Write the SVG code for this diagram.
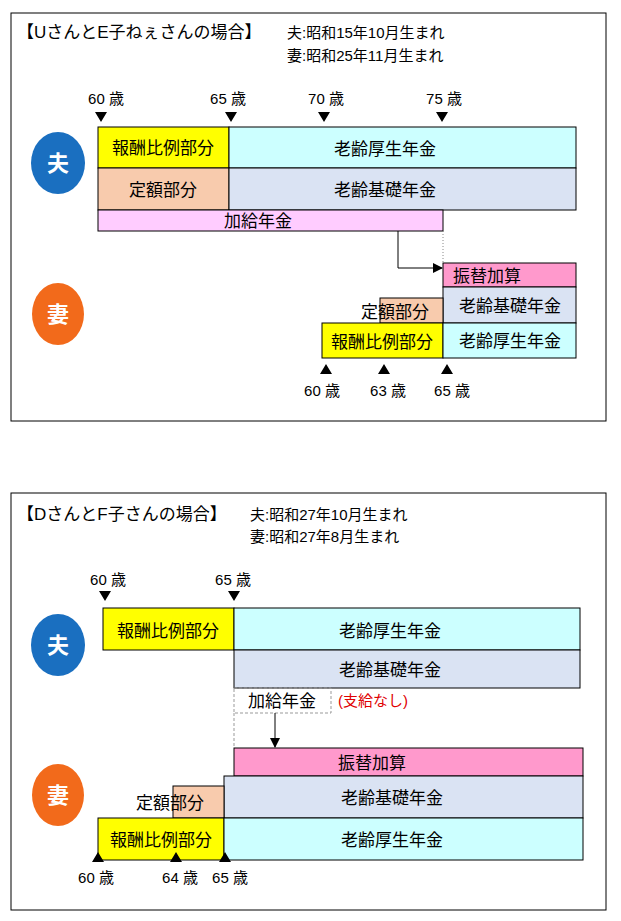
<svg xmlns="http://www.w3.org/2000/svg" width="621" height="921" viewBox="0 0 621 921">
<style>
text{font-family:"Liberation Sans","Noto Sans CJK JP",sans-serif;fill:#000}
.t{font-size:17px}
.b{font-size:17px}
.a{font-size:15px}
.c{font-size:22px;font-weight:bold;fill:#fff}
.m{text-anchor:middle}
.r{stroke:#000;stroke-width:1}
.y{fill:#ffff00}.o{fill:#f8cbad}.cy{fill:#ccffff}.g{fill:#dae3f3}.p{fill:#ffccff}.pk{fill:#ff99cc}
</style>
<defs>
<marker id="ah" markerWidth="10" markerHeight="10" refX="9" refY="5" orient="auto" markerUnits="userSpaceOnUse"><path d="M0,0L10,5L0,10z" fill="#000"/></marker>
</defs>
<rect width="621" height="921" fill="#fff"/>
<g id="panel1">
<rect x="11" y="13" width="595" height="408" fill="none" stroke="#000"/>
<text x="17" y="38" class="t">【UさんとE子ねぇさんの場合】</text>
<text x="287" y="38" class="a">夫:昭和15年10月生まれ</text>
<text x="287" y="61" class="a">妻:昭和25年11月生まれ</text>
<g class="a m"><text x="106" y="104">60 歳</text><text x="228" y="104">65 歳</text><text x="326" y="104">70 歳</text><text x="444" y="104">75 歳</text></g>
<path d="M95,112h12l-6,10zM225,112h12l-6,10zM318,112h12l-6,10zM436,112h12l-6,10z"/>
<g id="h1"><ellipse cx="58" cy="163" rx="27" ry="31" fill="#1a6fc0"/><text x="58" y="171" class="c m">夫</text></g>
<g id="h1a"><rect x="98" y="127" width="131" height="41" class="r y"/><text x="163" y="154" class="b m">報酬比例部分</text></g>
<g id="h1b"><rect x="229" y="127" width="347" height="41" class="r cy"/><text x="385" y="155" class="b m">老齢厚生年金</text></g>
<g id="h1c"><rect x="98" y="168" width="131" height="42" class="r o"/><text x="163" y="196" class="b m">定額部分</text></g>
<g id="h1d"><rect x="229" y="168" width="347" height="42" class="r g"/><text x="385" y="196" class="b m">老齢基礎年金</text></g>
<g id="h1e"><rect x="98" y="210" width="345" height="21" class="r p"/><text x="258" y="227" class="b m">加給年金</text></g>
<g id="w1"><ellipse cx="58" cy="314" rx="26" ry="31" fill="#f26a1b"/><text x="58" y="322" class="c m">妻</text></g>
<g id="w1a"><rect x="443" y="263" width="133" height="24" class="r pk"/><text x="453" y="282" class="b">振替加算</text></g>
<g id="w1b"><rect x="443" y="287" width="133" height="36" class="r g"/><text x="510" y="312" class="b m">老齢基礎年金</text></g>
<g id="w1c"><rect x="380" y="298" width="63" height="25" class="r o"/><text x="361" y="318" class="b">定額部分</text></g>
<g id="w1d"><rect x="322" y="323" width="121" height="35" class="r y"/><text x="382" y="348" class="b m">報酬比例部分</text></g>
<g id="w1e"><rect x="443" y="323" width="133" height="35" class="r cy"/><text x="510" y="347" class="b m">老齢厚生年金</text></g>
<path d="M320,374h12l-6,-10zM378,374h12l-6,-10zM441,374h12l-6,-10z"/>
<g class="a m"><text x="322" y="396">60 歳</text><text x="388" y="396">63 歳</text><text x="452" y="396">65 歳</text></g>
<g id="conn1"><path d="M443,231V263" stroke="#888" stroke-dasharray="1,2" fill="none"/><path d="M398,231V268H442" stroke="#000" fill="none" marker-end="url(#ah)"/></g>
</g>
<g id="panel2">
<rect x="11" y="493" width="595" height="417" fill="none" stroke="#000"/>
<text x="17" y="520" class="t">【DさんとF子さんの場合】</text>
<text x="250" y="520" class="a">夫:昭和27年10月生まれ</text>
<text x="250" y="542" class="a">妻:昭和27年8月生まれ</text>
<g class="a m"><text x="108" y="585">60 歳</text><text x="233" y="585">65 歳</text></g>
<path d="M99,591h12l-6,10zM228,591h12l-6,10z"/>
<g id="h2"><ellipse cx="58" cy="645" rx="27" ry="31" fill="#1a6fc0"/><text x="58" y="653" class="c m">夫</text></g>
<g id="h2a"><rect x="103" y="608" width="131" height="42" class="r y"/><text x="168" y="637" class="b m">報酬比例部分</text></g>
<g id="h2b"><rect x="234" y="608" width="346" height="42" class="r cy"/><text x="390" y="637" class="b m">老齢厚生年金</text></g>
<g id="h2c"><rect x="234" y="650" width="346" height="38" class="r g"/><text x="390" y="676" class="b m">老齢基礎年金</text></g>
<g id="h2d"><rect x="234" y="688" width="97" height="25" fill="none" stroke="#999" stroke-dasharray="3,2"/><text x="282" y="707" class="b m">加給年金</text><text x="338" y="706" class="a" style="fill:#e00000">(支給なし)</text></g>
<g id="w2"><ellipse cx="58" cy="795" rx="26" ry="31" fill="#f26a1b"/><text x="58" y="803" class="c m">妻</text></g>
<g id="w2a"><rect x="234" y="748" width="349" height="28" class="r pk"/><text x="372" y="769" class="b m">振替加算</text></g>
<g id="w2b"><rect x="224" y="776" width="359" height="42" class="r g"/><text x="392" y="804" class="b m">老齢基礎年金</text></g>
<g id="w2c"><rect x="173" y="786" width="51" height="32" class="r o"/><text x="136" y="809" class="b">定額部分</text></g>
<g id="w2d"><rect x="98" y="818" width="126" height="42" class="r y"/><text x="161" y="846" class="b m">報酬比例部分</text></g>
<g id="w2e"><rect x="224" y="818" width="359" height="42" class="r cy"/><text x="392" y="846" class="b m">老齢厚生年金</text></g>
<path d="M92,862h12l-6,-10zM170,862h12l-6,-10zM219,862h12l-6,-10z"/>
<g class="a m"><text x="96" y="883">60 歳</text><text x="180" y="883">64 歳</text><text x="230" y="883">65 歳</text></g>
<g id="conn2"><path d="M234,713V748" stroke="#999" stroke-dasharray="3,2" fill="none"/><path d="M275,713V747" stroke="#000" fill="none" marker-end="url(#ah)"/></g>
</g>
</svg>
